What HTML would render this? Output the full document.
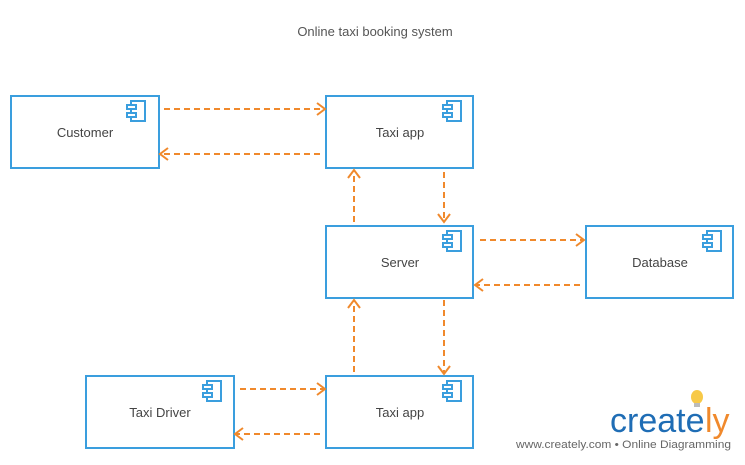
<!DOCTYPE html>
<html><head><style>
body{margin:0;background:#fff;font-family:"Liberation Sans",sans-serif;}
</style></head><body>
<svg width="745" height="460" viewBox="0 0 745 460" xmlns="http://www.w3.org/2000/svg">
<defs>
<marker id="a" markerWidth="14" markerHeight="14" refX="10" refY="7" orient="auto" markerUnits="userSpaceOnUse">
<path d="M2,1 L10,7 L2,13" fill="none" stroke="#f0892c" stroke-width="2"/>
</marker>
<g id="ic"><rect x="4" y="0" width="14" height="20" fill="none" stroke="#3a9ede" stroke-width="2"/><rect x="0" y="4" width="9" height="4" fill="#fff" stroke="#3a9ede" stroke-width="2"/><rect x="0" y="12" width="9" height="4" fill="#fff" stroke="#3a9ede" stroke-width="2"/></g>
</defs>
<text x="375" y="36" font-size="13" fill="#555" text-anchor="middle">Online taxi booking system</text>
<g fill="#fff" stroke="#3a9ede" stroke-width="2">
<rect x="11" y="96" width="148" height="72"/>
<rect x="326" y="96" width="147" height="72"/>
<rect x="326" y="226" width="147" height="72"/>
<rect x="586" y="226" width="147" height="72"/>
<rect x="86" y="376" width="148" height="72"/>
<rect x="326" y="376" width="147" height="72"/>
</g>
<use href="#ic" x="127" y="101"/>
<use href="#ic" x="443" y="101"/>
<use href="#ic" x="443" y="231"/>
<use href="#ic" x="703" y="231"/>
<use href="#ic" x="203" y="381"/>
<use href="#ic" x="443" y="381"/>
<g font-size="13" fill="#444" text-anchor="middle">
<text x="85" y="137">Customer</text>
<text x="400" y="137">Taxi app</text>
<text x="400" y="267">Server</text>
<text x="660" y="267">Database</text>
<text x="160" y="417">Taxi Driver</text>
<text x="400" y="417">Taxi app</text>
</g>
<g stroke="#f0892c" stroke-width="2" stroke-dasharray="6,4" fill="none" marker-end="url(#a)">
<path d="M164,109 H325"/>
<path d="M320,154 H160"/>
<path d="M354,222 V170"/>
<path d="M444,172 V222"/>
<path d="M480,240 H584"/>
<path d="M580,285 H475"/>
<path d="M354,372 V300"/>
<path d="M444,300 V374"/>
<path d="M240,389 H325"/>
<path d="M320,434 H235"/>
</g>
<ellipse cx="697" cy="397" rx="6" ry="7" fill="#f7c948"/>
<rect x="694" y="403" width="6" height="4" fill="#bbb"/>
<text x="610" y="432" font-size="34" fill="#1f6db5">create</text>
<text x="705" y="432" font-size="34" fill="#f0892c">ly</text>
<text x="516" y="448" font-size="11" fill="#666" textLength="215" lengthAdjust="spacingAndGlyphs">www.creately.com • Online Diagramming</text>
</svg>
</body></html>
